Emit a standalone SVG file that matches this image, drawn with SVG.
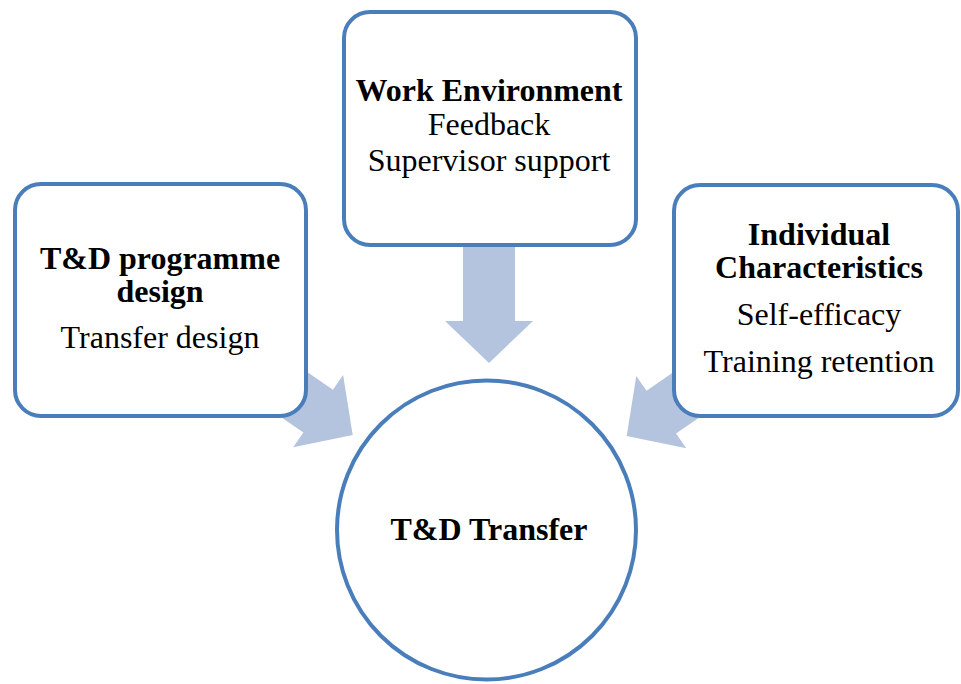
<svg xmlns="http://www.w3.org/2000/svg" width="961" height="684" viewBox="0 0 961 684">
  <style>
    .box { fill: #ffffff; stroke: #4A7EBB; stroke-width: 4; }
    .arrow { fill: #B4C4DF; stroke: none; }
    text { font-family: "Liberation Serif", "Times New Roman", serif; font-size: 32px; fill: #000000; text-anchor: middle; }
    .b { font-weight: bold; }
  </style>
  <defs>
    <polygon id="arr" points="0,0 -42,-44 -42,-26 -140,-26 -140,26 -42,26 -42,44"/>
  </defs>
  <rect width="961" height="684" fill="#ffffff"/>
  <g id="connectors">
    <use href="#arr" class="arrow" transform="translate(489,363) rotate(90)"/>
    <use href="#arr" class="arrow" transform="translate(352.7,435) rotate(34.6)"/>
    <use href="#arr" class="arrow" transform="translate(626.7,436) rotate(145.4)"/>
  </g>
  <g id="node-design">
    <rect class="box" x="15" y="184" width="291" height="232" rx="26" ry="26"/>
    <text class="b" x="160" y="269">T&amp;D programme</text>
    <text class="b" x="160" y="302">design</text>
    <text x="160" y="348">Transfer design</text>
  </g>
  <g id="node-work">
    <rect class="box" x="344" y="12" width="292" height="233" rx="26" ry="26"/>
    <text class="b" x="489" y="101">Work Environment</text>
    <text x="489" y="135">Feedback</text>
    <text x="489" y="170.5">Supervisor support</text>
  </g>
  <g id="node-individual">
    <rect class="box" x="674" y="185" width="284" height="231" rx="26" ry="26"/>
    <text class="b" x="819" y="245">Individual</text>
    <text class="b" x="819" y="278">Characteristics</text>
    <text x="819" y="325">Self-efficacy</text>
    <text x="819" y="372">Training retention</text>
  </g>
  <g id="node-transfer">
    <circle class="box" cx="486.5" cy="530" r="149.5"/>
    <text class="b" x="489" y="540">T&amp;D Transfer</text>
  </g>
</svg>
